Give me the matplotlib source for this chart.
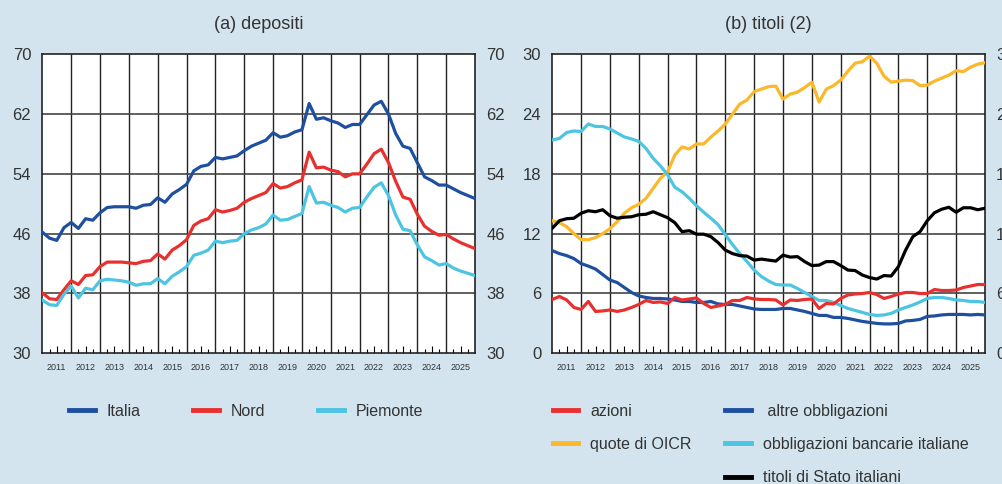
import matplotlib
matplotlib.use("Agg")
import matplotlib.pyplot as plt
import numpy as np
import pandas as pd
from matplotlib.ticker import FixedLocator

plt.rcParams['font.family'] = ['Liberation Sans', 'DejaVu Sans']

# quarterly observations, end of 2010 Q4 through 2025 Q4
quarters = pd.period_range('2010Q4', '2025Q4', freq='Q')
years = list(range(2011, 2026))

# (a) depositi
italia = [46.2, 45.4, 45.1, 46.8, 47.5, 46.7, 48.0, 47.8, 48.8, 49.5, 49.6, 49.6, 49.6, 49.4, 49.8, 49.9, 50.8, 50.2, 51.3, 51.9, 52.6,
          54.4, 55.0, 55.2, 56.2, 56.0, 56.2, 56.4, 57.1, 57.7, 58.1, 58.5, 59.5, 58.9, 59.1, 59.6, 59.9, 63.4, 61.3, 61.5, 61.1,
          60.8, 60.2, 60.6, 60.6, 61.9, 63.2, 63.7, 62.0, 59.4, 57.7, 57.4, 55.5, 53.6, 53.1, 52.5, 52.5, 52.0, 51.5, 51.1, 50.7]
nord = [38.1, 37.3, 37.2, 38.5, 39.7, 39.2, 40.4, 40.5, 41.6, 42.2, 42.2, 42.2, 42.1, 42.0, 42.3, 42.4, 43.3, 42.6, 43.8, 44.4, 45.2,
        47.1, 47.7, 48.0, 49.2, 48.9, 49.1, 49.4, 50.2, 50.7, 51.1, 51.5, 52.7, 52.1, 52.3, 52.8, 53.2, 56.9, 54.8, 54.9, 54.5,
        54.3, 53.6, 54.0, 54.0, 55.3, 56.7, 57.3, 55.5, 53.0, 50.9, 50.6, 48.6, 47.0, 46.3, 45.8, 45.9, 45.3, 44.8, 44.4, 44.0]
piemonte = [37.1, 36.5, 36.4, 37.9, 39.0, 37.4, 38.7, 38.5, 39.7, 39.9, 39.8, 39.7, 39.5, 39.1, 39.3, 39.3, 40.0, 39.3, 40.3, 40.9, 41.6,
            43.1, 43.4, 43.8, 45.0, 44.8, 45.0, 45.1, 46.0, 46.5, 46.8, 47.3, 48.5, 47.8, 47.9, 48.3, 48.7, 52.3, 50.1, 50.2, 49.8,
            49.5, 48.9, 49.4, 49.5, 50.9, 52.2, 52.8, 51.1, 48.5, 46.6, 46.4, 44.5, 42.9, 42.4, 41.8, 42.0, 41.4, 41.0, 40.7, 40.4]

# (b) titoli
azioni = [5.4, 5.7, 5.35, 4.6, 4.4, 5.2, 4.2, 4.25, 4.35, 4.2, 4.35, 4.6, 4.9, 5.3, 5.1, 5.15, 5.0, 5.6, 5.35, 5.45, 5.55,
          5.0, 4.6, 4.75, 4.9, 5.3, 5.3, 5.6, 5.45, 5.4, 5.4, 5.35, 4.85, 5.35, 5.3, 5.4, 5.45, 4.5, 5.0, 4.95, 5.5,
          5.85, 5.95, 6.0, 6.1, 5.9, 5.5, 5.7, 5.95, 6.1, 6.1, 6.0, 6.0, 6.4, 6.3, 6.3, 6.35, 6.6, 6.75, 6.9, 6.9]
altre_obbl = [10.3, 10.0, 9.8, 9.5, 9.0, 8.75, 8.45, 7.9, 7.35, 7.1, 6.6, 6.1, 5.75, 5.6, 5.5, 5.5, 5.45, 5.35, 5.2, 5.2, 5.1,
              5.1, 5.2, 4.95, 4.9, 4.9, 4.75, 4.6, 4.45, 4.4, 4.4, 4.4, 4.5, 4.5, 4.35, 4.2, 4.0, 3.8, 3.8, 3.6, 3.6,
              3.5, 3.35, 3.2, 3.1, 3.0, 2.95, 2.95, 3.0, 3.25, 3.3, 3.4, 3.7, 3.75, 3.85, 3.9, 3.9, 3.9, 3.85, 3.9, 3.85]
oicr = [13.3, 13.1, 12.7, 12.0, 11.4, 11.4, 11.6, 12.0, 12.5, 13.2, 14.05, 14.6, 14.95, 15.55, 16.55, 17.55, 18.2, 19.9, 20.7, 20.5, 21.0,
        21.0, 21.7, 22.3, 23.0, 24.0, 25.0, 25.4, 26.25, 26.5, 26.75, 26.8, 25.5, 26.0, 26.2, 26.65, 27.2, 25.2, 26.5, 26.85, 27.4,
        28.3, 29.1, 29.25, 29.8, 29.1, 27.8, 27.2, 27.3, 27.4, 27.35, 26.85, 26.9, 27.3, 27.6, 27.9, 28.35, 28.25, 28.7, 29.0, 29.15]
bancarie = [21.4, 21.55, 22.15, 22.3, 22.25, 23.0, 22.75, 22.75, 22.5, 22.1, 21.7, 21.5, 21.25, 20.55, 19.55, 18.8, 17.9, 16.65, 16.2, 15.55, 14.8,
            14.15, 13.55, 12.9, 11.9, 10.9, 10.0, 9.2, 8.35, 7.7, 7.25, 6.9, 6.85, 6.85, 6.5, 6.1, 5.7, 5.3, 5.3, 5.1, 4.8,
            4.5, 4.3, 4.1, 3.9, 3.8, 3.85, 4.0, 4.35, 4.6, 4.85, 5.15, 5.5, 5.6, 5.6, 5.5, 5.35, 5.3, 5.2, 5.2, 5.1]
stato = [12.55, 13.3, 13.5, 13.55, 14.05, 14.3, 14.2, 14.4, 13.8, 13.55, 13.65, 13.7, 13.9, 13.95, 14.2, 13.9, 13.6, 13.1, 12.2, 12.3, 11.95,
         11.95, 11.7, 11.1, 10.35, 10.0, 9.8, 9.75, 9.35, 9.45, 9.35, 9.25, 9.85, 9.65, 9.7, 9.2, 8.8, 8.85, 9.2, 9.2, 8.8,
         8.35, 8.3, 7.85, 7.6, 7.45, 7.8, 7.75, 8.7, 10.35, 11.7, 12.2, 13.3, 14.1, 14.45, 14.65, 14.15, 14.6, 14.6, 14.4, 14.55]

BG = '#d3e4ee'
BLUE = '#1f50a0'
RED = '#e8312f'
CYAN = '#4cc4e2'
YELLOW = '#fbb82b'
TXT = '#333333'

x = np.array([q.year + q.quarter / 4 for q in quarters])


def setup_axis(ax, title, yticks):
    ax.set_xlim(years[0], years[-1] + 1)
    ax.set_ylim(yticks[0], yticks[-1])
    ax.set_facecolor('white')
    ax.set_title(title, fontsize=13, color=TXT, pad=18)
    # year boundaries as vertical grid, values as horizontal grid
    ax.vlines(years[1:], yticks[0], yticks[-1], color='#222222', lw=1.0, zorder=1)
    ax.hlines(yticks[1:-1], years[0], years[-1] + 1, color='#444444', lw=1.2, zorder=1)
    ax.xaxis.set_major_locator(FixedLocator([y + 0.5 for y in years]))
    ax.set_xticklabels([str(y) for y in years])
    ax.xaxis.set_minor_locator(FixedLocator([y + q / 4 for y in years for q in (1, 3)]))
    ax.tick_params(axis='x', which='major', direction='in', length=5, width=0.8,
                   labelsize=6.5, labelcolor=TXT, pad=7)
    ax.tick_params(axis='x', which='minor', direction='in', length=3, width=0.8)
    ax.set_yticks(yticks)
    ax.tick_params(axis='y', length=0, labelsize=12, labelcolor=TXT, pad=8,
                   left=True, right=True, labelleft=True, labelright=True)
    for s in ax.spines.values():
        s.set_linewidth(1.2)
        s.set_color('#222222')


fig = plt.figure(figsize=(10.03, 4.84), dpi=100, facecolor=BG)
ax1 = fig.add_axes([0.0422, 0.270, 0.4314, 0.618])
ax2 = fig.add_axes([0.5506, 0.270, 0.4314, 0.618])

setup_axis(ax1, '(a) depositi', [30, 38, 46, 54, 62, 70])
lw = 2.3
h_it, = ax1.plot(x, italia, color=BLUE, lw=lw, zorder=3)
h_no, = ax1.plot(x, nord, color=RED, lw=lw, zorder=3)
h_pi, = ax1.plot(x, piemonte, color=CYAN, lw=lw, zorder=3)

setup_axis(ax2, '(b) titoli (2)', [0, 6, 12, 18, 24, 30])
h_oi, = ax2.plot(x, oicr, color=YELLOW, lw=lw, zorder=3)
h_ba, = ax2.plot(x, bancarie, color=CYAN, lw=lw, zorder=3)
h_ao, = ax2.plot(x, altre_obbl, color=BLUE, lw=lw, zorder=3)
h_az, = ax2.plot(x, azioni, color=RED, lw=lw, zorder=3)
h_st, = ax2.plot(x, stato, color='black', lw=lw, zorder=4)

leg_kw = dict(loc='upper left', frameon=False, fontsize=11.5, handlelength=1.6,
              handletextpad=0.75, borderpad=0, borderaxespad=0, labelspacing=1.15,
              labelcolor=TXT)

fig.legend([h_it, h_no, h_pi], ['Italia', 'Nord', 'Piemonte'], ncol=3,
           columnspacing=3.3, bbox_to_anchor=(0.069, 0.166), **leg_kw)
fig.legend([h_az, h_oi], ['azioni', 'quote di OICR'],
           bbox_to_anchor=(0.551, 0.166), **leg_kw)
fig.legend([h_ao, h_ba, h_st],
           [' altre obbligazioni', 'obbligazioni bancarie italiane', 'titoli di Stato italiani'],
           bbox_to_anchor=(0.723, 0.166), **leg_kw)

for lg in fig.legends:
    for ln in lg.get_lines():
        ln.set_linewidth(3.5)

fig.savefig('out.png', dpi=100, facecolor=BG)
